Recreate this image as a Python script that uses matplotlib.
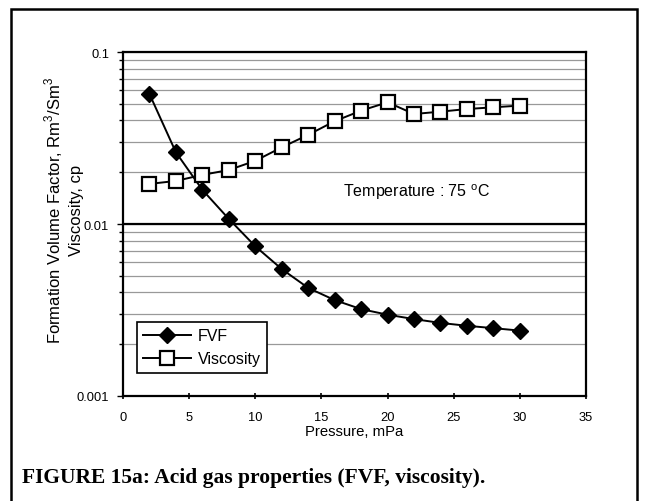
import matplotlib
matplotlib.use('Agg')
import matplotlib.pyplot as plt
from matplotlib.patches import Rectangle
from matplotlib.ticker import FixedLocator, NullFormatter

plt.rcParams['font.family'] = ['Liberation Sans', 'DejaVu Sans']

pressure = [2, 4, 6, 8, 10, 12, 14, 16, 18, 20, 22, 24, 26, 28, 30]
fvf = [0.0570, 0.0261, 0.0158, 0.0107, 0.00742, 0.00547, 0.00425, 0.00361,
       0.00320, 0.00297, 0.00280, 0.00266, 0.00256, 0.00248, 0.00240]
viscosity = [0.0171, 0.0178, 0.0193, 0.0206, 0.0233, 0.0279, 0.0330, 0.0396,
             0.0456, 0.0510, 0.0436, 0.0450, 0.0466, 0.0477, 0.0488]
x_ticks = [0, 5, 10, 15, 20, 25, 30, 35]
y_ticks = [0.001, 0.01, 0.1]
y_labels = ['0.001', '0.01', '0.1']

W, H = 645, 502
fig = plt.figure(figsize=(6.45, 5.02), dpi=100)

# outer frame of the figure
fig.patches.append(Rectangle((11 / W, -0.01), 626 / W, 1 - 10 / H + 0.01,
                             transform=fig.transFigure, fill=False,
                             edgecolor='black', lw=1.8))

ax = fig.add_axes([123 / W, 1 - 397 / H, 463 / W, 344 / H])
ax.set_yscale('log')
ax.set_xlim(0, 35)
ax.set_ylim(0.001, 0.1)

ax.set_xticks(x_ticks)
ax.set_yticks(y_ticks)
ax.set_yticklabels(y_labels)
minors = [m * d for d in (0.001, 0.01) for m in range(2, 10)]
ax.yaxis.set_minor_locator(FixedLocator(minors))
ax.yaxis.set_minor_formatter(NullFormatter())
ax.tick_params(axis='x', direction='inout', length=5, width=1.2, labelsize=9.3, pad=8)
ax.tick_params(axis='y', which='both', direction='out', length=3, width=1, labelsize=9.3, pad=6)
ax.tick_params(axis='y', which='major', length=4)

ax.yaxis.grid(True, which='both', color='0.6', lw=0.9)
ax.axhline(0.01, color='black', lw=1.6)
for s in ax.spines.values():
    s.set_linewidth(1.6)

ax.plot(pressure, fvf, color='black', lw=1.4, marker='D', markersize=8,
        markerfacecolor='black', label='FVF')
ax.plot(pressure, viscosity, color='black', lw=1.4, marker='s', markersize=10,
        markerfacecolor='white', markeredgewidth=1.6, label='Viscosity')

ax.text(16.6, 0.01456, 'Temperature : 75 $^{\\mathregular{o}}$C', fontsize=11.5,
        va='baseline', ha='left')

leg = ax.legend(loc='upper left', bbox_to_anchor=(0.03, 0.215), fontsize=11.5,
                handlelength=3.0, fancybox=False, edgecolor='black',
                framealpha=1, borderpad=0.4, labelspacing=0.5, handletextpad=0.4,
                borderaxespad=0)
leg.get_frame().set_linewidth(1.2)

ax.set_xlabel('Pressure, mPa', fontsize=10.7, labelpad=1)
fig.text(54 / W, 1 - 210 / H, 'Formation Volume Factor, Rm$^{\\mathregular{3}}$/Sm$^{\\mathregular{3}}$',
         rotation=90, ha='center', va='center', fontsize=12)
fig.text(76 / W, 1 - 210 / H, 'Viscosity, cp', rotation=90, ha='center',
         va='center', fontsize=12)

fig.text(22 / W, 1 - 483 / H, 'FIGURE 15a: Acid gas properties (FVF, viscosity).',
         family='Liberation Serif', weight='bold', fontsize=15.5, va='baseline')

fig.savefig('out.png', dpi=100)
